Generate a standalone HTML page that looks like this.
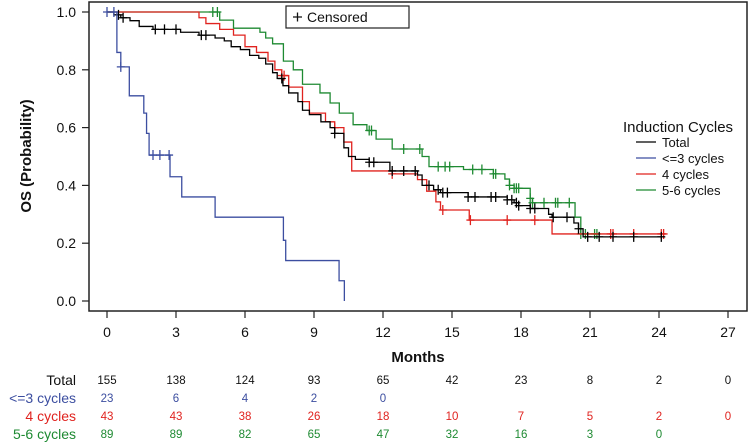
<!DOCTYPE html>
<html><head><meta charset="utf-8"><style>
body{margin:0;background:#fff;}
svg{display:block;font-family:"Liberation Sans",Arial,sans-serif;}
</style></head><body>
<svg id="chart" width="750" height="445" xmlns="http://www.w3.org/2000/svg">
<g id="axes"></g><g id="plot"></g><g id="legend"></g><g id="risk"></g>
</svg>
<script>
const xTicks=[0,3,6,9,12,15,18,21,24,27];
const yTicks=[0.0,0.2,0.4,0.6,0.8,1.0];
const seriesNames=["Total","<=3 cycles","4 cycles","5-6 cycles"];
const seriesColors=["#000000","#3c4ea0","#e0231f","#1e8a32"];
const totalTimes=[0,0.3,0.6,1.0,1.4,2.0,3.2,4.0,4.7,5.1,5.4,5.8,6.2,6.6,6.9,7.2,7.4,7.65,7.9,8.3,8.5,8.8,9.3,9.7,9.9,10.3,10.5,10.8,11.4,12.3,13.5,13.7,14.2,14.5,15.7,17.4,17.7,17.9,18.4,19.2,19.35,20.3,20.5,20.7];
const totalSurv=[1.0,0.99,0.98,0.97,0.95,0.94,0.93,0.92,0.91,0.90,0.88,0.87,0.85,0.84,0.82,0.79,0.77,0.745,0.72,0.69,0.66,0.645,0.62,0.60,0.58,0.53,0.50,0.49,0.48,0.45,0.436,0.40,0.385,0.375,0.36,0.35,0.34,0.33,0.32,0.30,0.29,0.27,0.25,0.222];
const totalEnd=24.25;
const totalCens=[0.5,0.7,2.1,2.5,3.0,4.1,4.3,7.6,9.9,11.4,11.6,12.4,12.9,13.4,14.0,14.4,14.6,14.8,15.7,16.0,16.7,16.9,17.4,17.6,17.8,17.9,18.4,18.6,19.4,20.0,20.5,20.9,21.4,22.0,22.9,24.1];
const le3Times=[0,0.43,0.6,0.97,1.6,1.72,1.83,2.74,3.25,4.7,7.67,7.77,10.09,10.32];
const le3Surv=[1.0,0.86,0.81,0.71,0.65,0.58,0.505,0.43,0.36,0.29,0.21,0.14,0.07,0.0];
const le3End=10.32;
const le3Cens=[0.0,0.3,0.6,2.0,2.3,2.7];
const c4Times=[0,4.0,4.3,4.9,5.5,6.0,6.5,7.0,7.3,7.6,7.9,8.5,8.8,9.5,9.9,10.3,10.64,12.4,13.5,13.9,14.3,14.5,15.75,19.35];
const c4Surv=[1.0,0.98,0.96,0.94,0.92,0.88,0.86,0.83,0.80,0.78,0.74,0.69,0.65,0.62,0.60,0.55,0.45,0.44,0.42,0.38,0.343,0.315,0.28,0.232];
const c4End=24.3;
const c4Cens=[7.6,7.7,9.9,12.4,14.6,15.8,17.4,18.6,21.9,22.0,22.9,24.1,24.2];
const c56Times=[0,4.9,5.5,6.65,6.9,7.2,7.67,8.1,8.5,9.26,9.7,10.1,10.7,11.3,11.7,12.4,13.7,14.0,15.5,16.8,17.3,17.5,17.7,18.4,18.5,20.35,20.6];
const c56Surv=[1.0,0.972,0.944,0.93,0.91,0.89,0.83,0.80,0.75,0.72,0.685,0.65,0.61,0.59,0.56,0.526,0.50,0.465,0.455,0.44,0.422,0.40,0.39,0.355,0.34,0.29,0.232];
const c56End=21.4;
const c56Cens=[4.6,4.8,11.4,11.5,12.9,13.6,14.4,14.7,14.9,15.9,16.3,16.8,16.9,17.5,17.7,17.8,17.9,18.4,18.5,19.0,19.5,19.6,20.1,20.6,20.8,21.2,21.3];
const riskTotal=[155,138,124,93,65,42,23,8,2,0];
const riskLe3=[23,6,4,2,0];
const risk4=[43,43,38,26,18,10,7,5,2,0];
const risk56=[89,89,82,65,47,32,16,3,0];

const NS="http://www.w3.org/2000/svg";
const X=t=>107+t*23;
const Y=s=>301-s*289;
function mk(tag,attrs,parent,text){const e=document.createElementNS(NS,tag);for(const k in attrs)e.setAttribute(k,attrs[k]);if(text!==undefined)e.textContent=text;parent.appendChild(e);return e;}
const axes=document.getElementById('axes'),plot=document.getElementById('plot'),legend=document.getElementById('legend'),risk=document.getElementById('risk');
const frame=mk('rect',{x:89,y:2,width:658,height:309,fill:'none',stroke:'#222','stroke-width':1.5},axes);


xTicks.forEach(t=>{
  const l=mk('line',{x1:X(t),x2:X(t),y1:311,y2:318,stroke:'#222','stroke-width':1.2},axes);
  
  
  const tx=mk('text',{x:X(t),y:337,'text-anchor':'middle','font-size':14,fill:'#111'},axes,String(t));
  
  
});
yTicks.forEach(v=>{
  const l=mk('line',{x1:82,x2:89,y1:Y(v),y2:Y(v),stroke:'#222','stroke-width':1.2},axes);
  
  
  const tx=mk('text',{x:76,y:Y(v)+5,'text-anchor':'end','font-size':14,fill:'#111'},axes,v.toFixed(1));
  
  
});
const yt=mk('text',{x:0,y:0,transform:'translate(31,156) rotate(-90)','text-anchor':'middle','font-size':15,'font-weight':'bold',fill:'#111'},axes,'OS (Probability)');


const xt=mk('text',{x:418,y:362,'text-anchor':'middle','font-size':15,'font-weight':'bold',fill:'#111'},axes,'Months');



function survAt(times,surv,t){let s=surv[0];for(let i=0;i<times.length;i++){if(times[i]<=t)s=surv[i];}return s;}
function drawSeries(times,surv,end,cens,color,name){
  let d='M'+X(times[0])+','+Y(surv[0]);
  for(let i=1;i<times.length;i++){d+=' H'+X(times[i])+' V'+Y(surv[i]);}
  d+=' H'+X(end);
  const p=mk('path',{d:d,fill:'none',stroke:color,'stroke-width':1.3},plot);
  
  
  cens.forEach(t=>{
    const s=survAt(times,surv,t);
    const c=mk('path',{d:'M'+(X(t)-4)+','+Y(s)+' h8 M'+X(t)+','+(Y(s)-5)+' v10',stroke:color,'stroke-width':1.3,fill:'none'},plot);
    
    
  });
}
drawSeries(c56Times,c56Surv,c56End,c56Cens,seriesColors[3],'five-six-cycles');
drawSeries(c4Times,c4Surv,c4End,c4Cens,seriesColors[2],'four-cycles');
drawSeries(totalTimes,totalSurv,totalEnd,totalCens,seriesColors[0],'total');
drawSeries(le3Times,le3Surv,le3End,le3Cens,seriesColors[1],'le3-cycles');

const cb=mk('g',{},legend);


mk('rect',{x:286,y:6,width:123,height:22,fill:'#fff',stroke:'#222','stroke-width':1.2},cb);
mk('path',{d:'M293,17 h9 M297.5,12.5 v9',stroke:'#111','stroke-width':1.3},cb);
mk('text',{x:307,y:22,'font-size':14,fill:'#111'},cb,'Censored');
const lt=mk('text',{x:623,y:132,'font-size':15,fill:'#111'},legend,'Induction Cycles');


seriesNames.forEach((n,i)=>{
  const g=mk('g',{},legend);
  
  
  const y=142+i*16;
  mk('line',{x1:636,x2:656,y1:y,y2:y,stroke:seriesColors[i],'stroke-width':1.3},g);
  mk('text',{x:662,y:y+5,'font-size':13,fill:'#111'},g,n);
});

const rows=[riskTotal,riskLe3,risk4,risk56];
rows.forEach((arr,r)=>{
  const y=385+r*18;
  const lab=mk('text',{x:76,y:y,'text-anchor':'end','font-size':14,fill:r===0?'#111':seriesColors[r]},risk,seriesNames[r]);
  
  
  arr.forEach((v,i)=>{
    const t=mk('text',{x:X(xTicks[i]),y:y-1,'text-anchor':'middle','font-size':11.5,fill:r===0?'#111':seriesColors[r]},risk,String(v));
    
    
  });
});
</script>
</body></html>
